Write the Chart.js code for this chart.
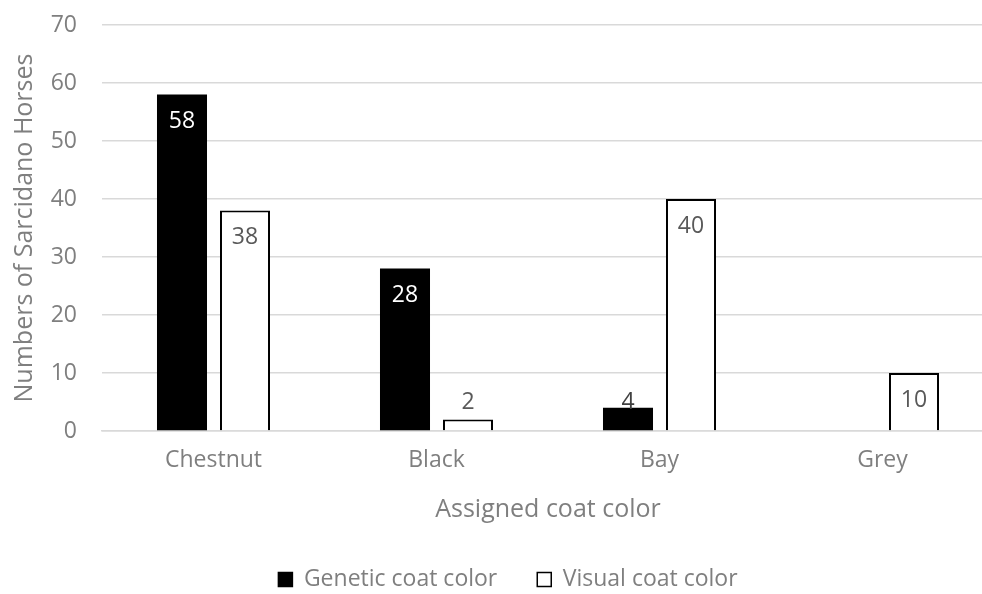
<!DOCTYPE html>
<html>
<head>
<meta charset="utf-8">
<script src="https://cdn.jsdelivr.net/npm/chart.js@4.4.1/dist/chart.umd.min.js"></script>
<style>
  html, body { margin: 0; padding: 0; background: #ffffff; overflow: hidden; }
  #wrap { width: 1025px; height: 601px; position: relative; }
</style>
</head>
<body>
<div id="wrap"><canvas id="c"></canvas></div>
<script>
// Coat colour categories and counts per assignment method
const categories = ['Chestnut', 'Black', 'Bay', 'Grey'];
const geneticCounts = [58, 28, 4, 0];
const visualCounts = [38, 2, 40, 10];
const yTicks = [0, 10, 20, 30, 40, 50, 60, 70];

const FONT = "'Open Sans', 'Noto Sans', sans-serif";
const GREY = '#7f7f7f';

// Writes each bar's value near the top of the bar (inside when it fits)
const valueLabels = {
  id: 'valueLabels',
  afterDatasetsDraw(chart, args, opts) {
    const ctx = chart.ctx;
    const base = chart.scales.y.getPixelForValue(0);
    ctx.save();
    ctx.font = '23px ' + FONT;
    ctx.textAlign = 'center';
    ctx.textBaseline = 'middle';
    chart.data.datasets.forEach((ds, di) => {
      const meta = chart.getDatasetMeta(di);
      meta.data.forEach((bar, i) => {
        const v = ds.data[i];
        if (!v) return;
        const y = Math.min(bar.y + 27, base - 29);
        ctx.fillStyle = opts.colors[di][i];
        ctx.fillText(String(v), bar.x, y);
      });
    });
    ctx.restore();
  }
};

new Chart(document.getElementById('c'), {
  type: 'bar',
  data: {
    labels: categories,
    datasets: [
      {
        label: 'Genetic coat color',
        data: geneticCounts,
        backgroundColor: '#000000',
        borderColor: '#000000',
        borderWidth: 0,
        barPercentage: 0.794,
        categoryPercentage: 0.565
      },
      {
        label: 'Visual coat color',
        data: visualCounts,
        backgroundColor: '#ffffff',
        borderColor: '#000000',
        borderWidth: { top: 2, left: 2, right: 2, bottom: 0 },
        borderSkipped: false,
        barPercentage: 0.794,
        categoryPercentage: 0.565
      }
    ]
  },
  options: {
    responsive: true,
    maintainAspectRatio: false,
    animation: false,
    layout: { padding: { left: 22, right: 31, top: 25, bottom: 0 } },
    scales: {
      y: {
        min: 0,
        max: 70,
        afterBuildTicks(scale) { scale.ticks = yTicks.map(v => ({ value: v })); },
        afterFit(scale) { scale.width = 80; },
        grid: { color: '#d9d9d9', lineWidth: 1.5, drawTicks: true, tickLength: 25, tickColor: 'rgba(0,0,0,0)' },
        border: { display: false },
        ticks: { color: GREY, font: { family: FONT, size: 23 }, padding: 0 },
        title: {
          display: true,
          text: 'Numbers of Sarcidano Horses',
          color: GREY,
          font: { family: FONT, size: 25 },
          padding: { top: -12, bottom: 0 }
        }
      },
      x: {
        afterFit(scale) { scale.height = 97; },
        grid: { display: false, drawTicks: false },
        border: { display: true, color: '#d9d9d9', width: 1.5 },
        ticks: { color: GREY, font: { family: FONT, size: 23 }, padding: 16 },
        title: {
          display: true,
          text: 'Assigned coat color',
          color: GREY,
          font: { family: FONT, size: 25 },
          padding: { top: 0, bottom: 3 }
        }
      }
    },
    plugins: {
      tooltip: { enabled: false },
      legend: {
        position: 'bottom',
        labels: {
          color: GREY,
          font: { family: FONT, size: 23 },
          boxWidth: 14,
          boxHeight: 14,
          padding: 40,
          generateLabels(chart) {
            return chart.data.datasets.map((ds, i) => ({
              text: ds.label,
              fillStyle: i === 0 ? '#000000' : '#ffffff',
              strokeStyle: '#000000',
              lineWidth: 1.5,
              fontColor: GREY,
              datasetIndex: i,
              hidden: false
            }));
          }
        }
      },
      valueLabels: {
        colors: [
          ['#ffffff', '#ffffff', '#404040', '#ffffff'],
          ['#595959', '#595959', '#595959', '#595959']
        ]
      }
    }
  },
  plugins: [valueLabels]
});
</script>
</body>
</html>
